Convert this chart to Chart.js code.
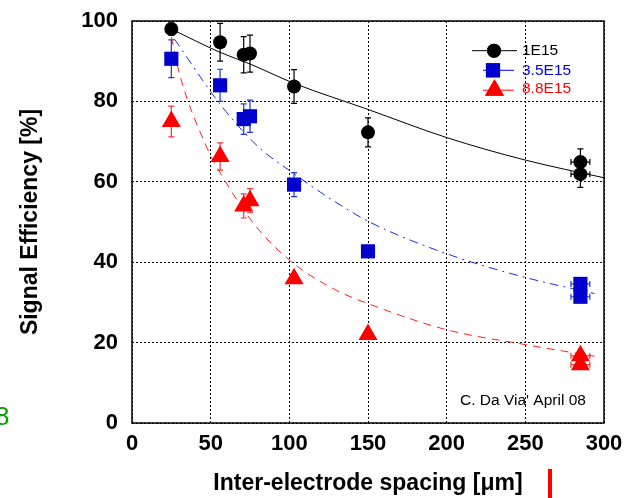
<!DOCTYPE html>
<html>
<head>
<meta charset="utf-8">
<script src="https://cdn.jsdelivr.net/npm/chart.js@4.4.1/dist/chart.umd.min.js"></script>
<style>
    html, body { margin: 0; padding: 0; background: #fff; }
    #wrap { position: relative; width: 624px; height: 498px; }
</style>
</head>
<body>
<div id="wrap"><canvas id="chart" width="624" height="498"></canvas></div>
<script>
// Measured points (spacing in um, efficiency in %)
const spacing = [25, 56, 71, 75, 103, 150, 285, 285];
const xErr = [0, 0, 0, 0, 0, 0, 6, 6];

const eff1E15 = [98, 94.7, 91.6, 91.9, 83.7, 72.3, 64.9, 61.9];
const err1E15 = [1.5, 4.7, 4.5, 4.6, 4.2, 3.6, 3.3, 3.3];

const eff35E15 = [90.6, 84, 75.6, 76.3, 59.3, 42.7, 34.6, 31.4];
const err35E15 = [4.7, 4, 3.8, 4, 3, 1.5, 0.5, 0.5];

const eff88E15 = [75, 66.3, 54, 55.3, 35.9, 22, 16.7, 14.5];
const err88E15 = [3.8, 3.4, 3, 3, 1, 0.5, 0.5, 0.5];

// Fit curves
const fitX1E15 = [25, 56, 75, 103, 150, 200, 250, 300];
const fitY1E15 = [98, 92.2, 89.3, 84.5, 78, 71, 65.4, 61];

const fitX35E15 = [27, 56, 80, 103, 128, 151, 200, 250, 294];
const fitY35E15 = [95.5, 79.3, 68.8, 62, 55.3, 50, 42.1, 36.2, 32.2];

const fitX88E15 = [25, 30.5, 47.5, 56.4, 78.6, 103, 130, 150, 200, 250, 294];
const fitY88E15 = [96, 86.4, 68.6, 62, 49, 39.6, 33, 29.7, 23.2, 19.5, 16.6];

const xTicks = [0, 50, 100, 150, 200, 250, 300];
const yTicks = [0, 20, 40, 60, 80, 100];

const legendLabels = ["1E15", "3.5E15", "8.8E15"];

const toPoints = (xs, ys) => xs.map((x, i) => ({ x: x, y: ys[i] }));

// Error bars, drawn under the markers
const errorBars = {
    id: "errorBars",
    beforeDatasetsDraw(chart) {
        const ctx = chart.ctx;
        const xs = chart.scales.x;
        const ys = chart.scales.y;
        const sets = [
            { ys: eff1E15, err: err1E15, color: "#000000" },
            { ys: eff35E15, err: err35E15, color: "#2233dd" },
            { ys: eff88E15, err: err88E15, color: "#ff3030" },
        ];
        ctx.save();
        ctx.lineWidth = 1.2;
        sets.forEach((s) => {
            ctx.strokeStyle = s.color;
            spacing.forEach((x, i) => {
                const px = xs.getPixelForValue(x);
                const py = ys.getPixelForValue(s.ys[i]);
                if (s.err[i] > 0) {
                    const top = ys.getPixelForValue(s.ys[i] + s.err[i]);
                    const bot = ys.getPixelForValue(s.ys[i] - s.err[i]);
                    ctx.beginPath();
                    ctx.moveTo(px, top); ctx.lineTo(px, bot);
                    ctx.moveTo(px - 3, top); ctx.lineTo(px + 3, top);
                    ctx.moveTo(px - 3, bot); ctx.lineTo(px + 3, bot);
                    ctx.stroke();
                }
                if (xErr[i] > 0) {
                    const l = xs.getPixelForValue(x - xErr[i]);
                    const r = xs.getPixelForValue(x + xErr[i]);
                    ctx.beginPath();
                    ctx.moveTo(l, py); ctx.lineTo(r, py);
                    ctx.moveTo(l, py - 3); ctx.lineTo(l, py + 3);
                    ctx.moveTo(r, py - 3); ctx.lineTo(r, py + 3);
                    ctx.stroke();
                }
            });
        });
        ctx.restore();
    },
};

// Frame, legend and the stray bits of text around the plot
const extras = {
    id: "extras",
    afterDraw(chart) {
        const ctx = chart.ctx;
        const a = chart.chartArea;
        ctx.save();
        ctx.strokeStyle = "#000";
        ctx.lineWidth = 1.5;
        ctx.setLineDash([]);
        ctx.strokeRect(a.left, a.top, a.right - a.left, a.bottom - a.top);

        // legend
        const rows = [
            { y: 50.7, x1: 472, x2: 517, mx: 494, color: "#000000", text: "#000000", style: "circle", r: 7 },
            { y: 70.3, x1: 483, x2: 514, mx: 493, color: "#0000cc", text: "#0000ee", style: "rect", r: 10 },
            { y: 90.2, x1: 483, x2: 514, mx: 494.5, color: "#ff0000", text: "#ff0000", style: "triangle", r: 11 },
        ];
        rows.forEach((row, i) => {
            ctx.strokeStyle = row.color;
            ctx.lineWidth = 1;
            ctx.beginPath();
            ctx.moveTo(row.x1, row.y);
            ctx.lineTo(row.x2, row.y);
            ctx.stroke();
            ctx.fillStyle = row.color;
            Chart.helpers.drawPoint(ctx, { pointStyle: row.style, radius: row.r, borderWidth: 0, rotation: 0 }, row.mx, row.y);
            ctx.fill();
            ctx.fillStyle = row.text;
            ctx.font = "15.5px 'Liberation Sans', Arial, sans-serif";
            ctx.textAlign = "left";
            ctx.textBaseline = "middle";
            ctx.fillText(legendLabels[i], 522, i === 2 ? 88.7 : row.y);
        });

        ctx.fillStyle = "#000";
        ctx.font = "15.5px 'Liberation Sans', Arial, sans-serif";
        ctx.textBaseline = "middle";
        ctx.fillText("C. Da Via' April 08", 460, 401);

        ctx.fillStyle = "#00a000";
        ctx.font = "26px 'Liberation Sans', Arial, sans-serif";
        ctx.fillText("8", -5, 418);

        ctx.fillStyle = "#ff0000";
        ctx.fillRect(548, 469, 4, 29);
        ctx.restore();
    },
};

const ctx = document.getElementById("chart").getContext("2d");
const chart = new Chart(ctx, {
    type: "scatter",
    data: {
        datasets: [
            {
                label: legendLabels[0],
                data: toPoints(spacing, eff1E15),
                pointStyle: "circle",
                pointRadius: 7,
                backgroundColor: "#000000",
                borderWidth: 0,
                showLine: false,
            },
            {
                label: legendLabels[1],
                data: toPoints(spacing, eff35E15),
                pointStyle: "rect",
                pointRadius: 10,
                backgroundColor: "#0000cc",
                borderWidth: 0,
                showLine: false,
            },
            {
                label: legendLabels[2],
                data: toPoints(spacing, eff88E15),
                pointStyle: "triangle",
                pointRadius: 11,
                backgroundColor: "#ff0000",
                borderWidth: 0,
                showLine: false,
            },
            {
                label: "fit 1E15",
                data: toPoints(fitX1E15, fitY1E15),
                showLine: true,
                pointRadius: 0,
                borderColor: "#000000",
                borderWidth: 1,
                cubicInterpolationMode: "monotone",
            },
            {
                label: "fit 3.5E15",
                data: toPoints(fitX35E15, fitY35E15),
                showLine: true,
                pointRadius: 0,
                borderColor: "#1a2ee6",
                borderWidth: 1,
                borderDash: [9, 5, 2, 5],
                cubicInterpolationMode: "monotone",
            },
            {
                label: "fit 8.8E15",
                data: toPoints(fitX88E15, fitY88E15),
                showLine: true,
                pointRadius: 0,
                borderColor: "#ff2020",
                borderWidth: 1,
                borderDash: [8, 6],
                cubicInterpolationMode: "monotone",
            },
        ],
    },
    options: {
        responsive: false,
        animation: false,
        layout: { padding: { top: 21, right: 20, left: 0, bottom: 0 } },
        plugins: {
            legend: { display: false },
            tooltip: { enabled: false },
        },
        scales: {
            x: {
                type: "linear",
                min: 0,
                max: 300,
                afterBuildTicks: (scale) => { scale.ticks = xTicks.map((v) => ({ value: v })); },
                afterFit: (scale) => {
                    scale.height = 75;
                    scale.paddingLeft = 0;
                    scale.paddingRight = 0;
                },
                grid: { color: "#000", lineWidth: 1, drawTicks: false },
                border: { display: false, dash: [2, 2] },
                ticks: {
                    color: "#000",
                    padding: 8,
                    maxRotation: 0,
                    font: { family: "'Liberation Sans', Arial, sans-serif", size: 22, weight: "bold" },
                },
                title: {
                    display: true,
                    text: "Inter-electrode spacing [\u03bcm]",
                    color: "#000",
                    padding: { top: 0, bottom: 1 },
                    font: { family: "'Liberation Sans', Arial, sans-serif", size: 23, weight: "bold" },
                },
            },
            y: {
                type: "linear",
                min: 0,
                max: 100,
                afterBuildTicks: (scale) => { scale.ticks = yTicks.map((v) => ({ value: v })); },
                afterFit: (scale) => {
                    scale.width = 132;
                    scale.paddingTop = 0;
                    scale.paddingBottom = 0;
                },
                grid: { color: "#000", lineWidth: 1, drawTicks: false },
                border: { display: false, dash: [2, 2] },
                ticks: {
                    color: "#000",
                    padding: 14,
                    font: { family: "'Liberation Sans', Arial, sans-serif", size: 22, weight: "bold" },
                },
                title: {
                    display: true,
                    text: "Signal Efficiency [%]",
                    color: "#000",
                    padding: { top: 17, bottom: 0 },
                    font: { family: "'Liberation Sans', Arial, sans-serif", size: 23, weight: "bold" },
                },
            },
        },
    },
    plugins: [errorBars, extras],
});
</script>
</body>
</html>
